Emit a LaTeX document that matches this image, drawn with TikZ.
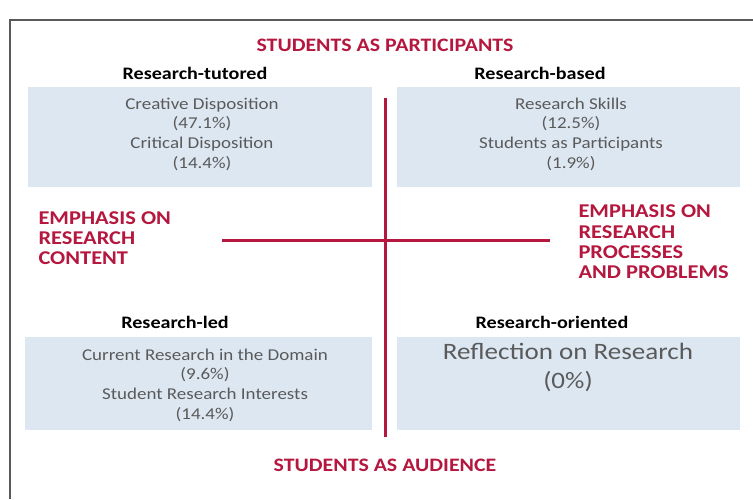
\documentclass[tikz,border=0pt]{standalone}
\usepackage{fontspec}
\setmainfont{Carlito}[FakeStretch=1.15]
\definecolor{axisred}{HTML}{B5173F}
\definecolor{boxblue}{HTML}{DCE7F2}
\definecolor{boxtext}{HTML}{5A5A5A}

\begin{document}
\begin{tikzpicture}[x=1pt,y=-1pt,
    axis/.style={axisred,line width=3pt},
    pole/.style={text=axisred,font=\bfseries\fontsize{19}{22}\selectfont},
    emph/.style={text=axisred,font=\bfseries\fontsize{19.5}{20.3}\selectfont,align=left,anchor=west},
    head/.style={font=\bfseries\fontsize{17.5}{20}\selectfont},
    quad/.style={fill=boxblue,minimum height=100pt,inner sep=0pt},
    entry/.style={text=boxtext,align=center,font=\fontsize{16.5}{19.7}\selectfont}]
    \useasboundingbox (0,0) rectangle (753,499);
    \fill[white] (0,0) rectangle (753,499);

    % Rahmen
    \draw[gray!70!black,line width=1.5pt] (10,499) -- (10,20) -- (753,20);

    % Felder
    \node[quad,minimum width=344pt] (tutored) at (200,137) {};
    \node[quad,minimum width=343pt] (based) at (568.5,137) {};
    \node[quad,minimum width=347pt,minimum height=93pt] (led) at (198.5,383.5) {};
    \node[quad,minimum width=343pt,minimum height=93pt] (oriented) at (568.5,383.5) {};

    % Achsen
    \coordinate (top) at (385,98);
    \coordinate (bottom) at (385,437);
    \coordinate (left) at (222,240);
    \coordinate (right) at (550,240);
    \draw[axis] (top) -- (bottom);
    \draw[axis] (left) -- (right);

    % Pole
    \node[pole] (participants) at (385,45) {STUDENTS AS PARTICIPANTS};
    \node[pole] (audience) at (385,465) {STUDENTS AS AUDIENCE};
    \node[emph] (content) at (35,238) {EMPHASIS ON\\RESEARCH\\CONTENT};
    \node[emph] (processes) at (575,242) {EMPHASIS ON\\RESEARCH\\PROCESSES\\AND PROBLEMS};

    % Titel
    \node[head] (tutoredhead) at (195,73) {Research-tutored};
    \node[head] (basedhead) at (540,73) {Research-based};
    \node[head] (ledhead) at (175,322) {Research-led};
    \node[head] (orientedhead) at (552,322) {Research-oriented};

    % Inhalte
    \node[entry] (tutoredtext) at (202,134) {Creative Disposition\\(47.1\%)\\Critical Disposition\\(14.4\%)};
    \node[entry] (basedtext) at (571,134) {Research Skills\\(12.5\%)\\Students as Participants\\(1.9\%)};
    \node[entry] (ledtext) at (205,385) {Current Research in the Domain\\(9.6\%)\\Student Research Interests\\(14.4\%)};
    \node[entry,font=\fontsize{23.5}{29}\selectfont] (orientedtext) at (568,367) {Reflection on Research\\(0\%)};
\end{tikzpicture}
\end{document}
